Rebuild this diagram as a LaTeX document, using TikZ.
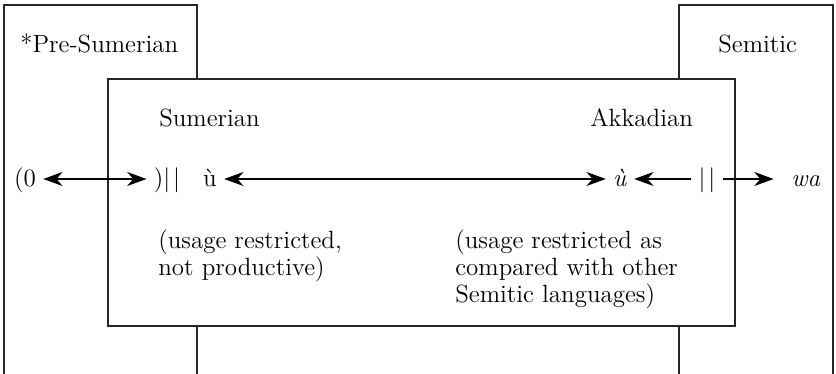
\documentclass[tikz,border=0pt]{standalone}
\usepackage{fontspec}
\usetikzlibrary{arrows.meta}

\begin{document}
\begin{tikzpicture} [x=0.02cm,y=0.02cm,>={Stealth[length=11pt,width=8pt,inset=3.5pt]},
    box/.style= {draw=black!85,line width=0.7pt},
    lbl/.style= {anchor=base west,inner sep=0,font=\fontsize{14.2}{15.6}\selectfont},
    row/.style= {inner xsep=4pt,inner ysep=0,text height=10pt,text depth=1.5pt,font=\fontsize{14.2}{15.6}\selectfont},
    note/.style= {anchor=north west,inner sep=0,align=left,font=\fontsize{14.2}{15.6}\selectfont},
    link/.style= {line width=0.6pt}]
    \useasboundingbox (0,0) rectangle (836,374);
    \foreach \a/\b in {4/197,679/833}{%
        \draw[box] (\a,0) -- (\a,369) -- (\b,369) -- (\b,0);}
    \draw[box,fill=white] (108,48) rectangle (735,295);

    \node[lbl] (pre) at (20,321) {*Pre-Sumerian};
    \node[lbl] (sem) at (718,321) {Semitic};
    \node[lbl] (sum) at (159,247) {Sumerian};
    \node[lbl] (akk) at (590,247) {Akkadian};

    \node[row] (zero) at (25,195) {(0};
    \node[row] (close) at (167,195) {)|\hspace{1.7pt}|};
    \node[row] (usum) at (210,195) {ù};
    \node[row] (uakk) at (620,195) {\textit{ù}};
    \node[row] (bars) at (707,195) {|\hspace{1.7pt}|};
    \node[row,inner xsep=10pt] (wa) at (806,195) {\textit{wa}};
    \draw[link,<->] (zero) -- (close);
    \draw[link,<->] (usum) -- (uakk);
    \draw[link,->] (bars) -- (uakk);
    \draw[link,->] (bars) -- (wa);

    \node[note] (snote) at (158,145) {(usage restricted,\\not productive)};
    \node[note] (anote) at (455,145) {(usage restricted as\\compared with other\\Semitic languages)};
\end{tikzpicture}
\end{document}
